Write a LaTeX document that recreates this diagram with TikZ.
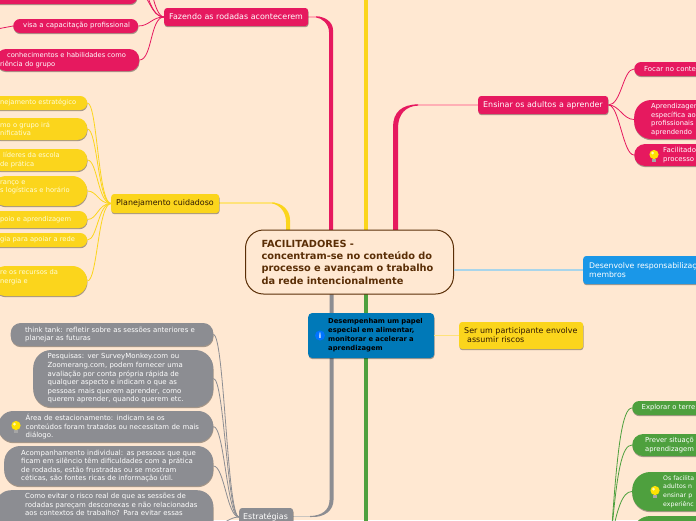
\documentclass[tikz,border=0pt]{standalone}
\usepackage{fontspec}
\setmainfont{DejaVu Sans}
\usetikzlibrary{shadows}
\definecolor{bgpeach}{HTML}{FFE8D2}
\definecolor{rosa}{HTML}{E6195F}
\definecolor{rosapale}{HTML}{FFAFB5}
\definecolor{amarelo}{HTML}{FBD51C}
\definecolor{amarelopale}{HTML}{FFE27A}
\definecolor{cinza}{HTML}{8C8D92}
\definecolor{cinzapale}{HTML}{C9C5C0}
\definecolor{verde}{HTML}{4EA03E}
\definecolor{azul}{HTML}{1A97E8}
\definecolor{azulpale}{HTML}{A9D5EA}
\definecolor{azulesc}{HTML}{0079B8}
\definecolor{marrom}{HTML}{5A2E06}
\tikzset{bulb/.pic={
\fill[gray!70] (-1.8,3) rectangle (1.8,6.5);
\fill[yellow!85!orange] (0,-1) circle (4.6);
\fill[yellow!30] (-1.5,-2.5) circle (1.5);
}}
\begin{document}
\begin{tikzpicture}[x=1pt,y=-1pt]
\tikzstyle {base}=[rectangle, anchor=west, align=left, inner ysep=0pt, drop shadow={shadow xshift=0.3pt, shadow yshift=-1.2pt, opacity=0.35, fill=black}]
\tikzstyle {topic}=[base, rounded corners=3pt, inner xsep=5pt, font=\fontsize{7.95}{9}\selectfont]
\tikzstyle {leaf}=[base, rounded corners=7pt, inner xsep=10pt, text=white, font=\fontsize{6.95}{8.6}\selectfont]
\tikzstyle {rleaf}=[leaf, fill=rosa]
\tikzstyle {yleaf}=[leaf, fill=amarelo, text=yellow!15, font=\fontsize{6.7}{8.6}\selectfont]
\tikzstyle {cleaf}=[leaf, fill=cinza]
\tikzstyle {vleaf}=[leaf, fill=verde]
\tikzstyle {rlnk}=[rosa, line width=0.8pt]
\tikzstyle {ylnk}=[amarelo, line width=0.8pt]
\tikzstyle {clnk}=[cinza, line width=0.8pt]
\tikzstyle {vlnk}=[verde, line width=0.8pt]
\useasboundingbox (0,0) rectangle (696,520);
\clip (0,0) rectangle (696,520);
\fill[bgpeach] (0,0) rectangle (696,520);
\coordinate (topY) at (366,-2);
\coordinate (baseY) at (366,232);
\coordinate (baseV) at (366,292);
\coordinate (botV) at (366,522);
\coordinate (offA) at (148,-3);
\coordinate (offB) at (153,-3);
\coordinate (offC) at (-3,29);
\coordinate (offD) at (225,522);
\coordinate (offE) at (611,540);
% trunks
\draw[amarelo, line width=4pt] (topY) -- (baseY);
\draw[verde, line width=4pt] (baseV) -- (botV);
\draw[rosapale, line width=1.4pt] (300,17) -- (320,17);
\draw[amarelopale, line width=1.2pt] (219,203) -- (275,203);
\draw[rosapale, line width=1.5pt] (478,105) -- (414,105);
\draw[cinzapale, line width=1.4pt] (293,516.5) -- (314,516.5);
\fill[rosa] (393,232) -- (393,127) .. controls (393,112) and (402,104.4) .. (418,104.4) -- (418,105.6) .. controls (406,106) and (398,114) .. (398,128) -- (398,232) -- cycle;
\fill[rosa] (333,232) -- (333,30) .. controls (333,22) and (325,16.4) .. (316,16.4) -- (316,17.4) .. controls (322,18) and (329,24) .. (329,32) -- (329,232) -- cycle;
\fill[amarelo] (290,232) -- (290,220) .. controls (290,210) and (282,202.6) .. (272,202.6) -- (272,203.4) .. controls (280,205) and (286,212) .. (286,222) -- (286,232) -- cycle;
\fill[cinza] (329.5,292) -- (329.5,500) .. controls (329.5,510) and (322,515.8) .. (310,516) -- (310,517) .. controls (325,518) and (333.5,510) .. (333.5,500) -- (333.5,292) -- cycle;
% centre and first level
\node (central) [rectangle, draw=marrom, line width=1pt, fill=bgpeach, rounded corners=18pt, anchor=west, align=left, text=marrom, inner xsep=16pt, inner ysep=0pt, minimum height=64pt, text width=176pt, font=\bfseries\fontsize{9.8}{12.3}\selectfont] at (245,262) {FACILITADORES -\\concentram-se no conteúdo do\\processo e avançam o trabalho\\da rede intencionalmente};
\node (rodadas) [topic, fill=rosa, text=white, minimum height=18pt, text width=134pt] at (164,17) {Fazendo as rodadas acontecerem};
\node (ensinar) [topic, fill=rosa, text=white, minimum height=18pt, text width=120pt] at (478,105) {Ensinar os adultos a aprender};
\node (plan) [topic, fill=amarelo, text=marrom!50!black, minimum height=19pt, text width=98pt] at (111,203.5) {Planejamento cuidadoso};
\node (estrat) [topic, fill=cinza, text=white, inner xsep=4pt, minimum height=18pt, text width=46pt] at (239,517) {Estratégias};
\node (desenv) [topic, fill=azul, text=white, inner xsep=6pt, minimum height=28pt, text width=120pt, font=\fontsize{7.75}{9}\selectfont] at (583,270) {Desenvolve responsabilizaç\\membros};
\node (ser) [topic, fill=amarelo, text=marrom!50!black, minimum height=27pt, text width=114pt] at (459,335.5) {Ser um participante envolve\\\hspace*{3pt}assumir riscos};
\node (desemp) [base, fill=azulesc, rounded corners=4pt, inner xsep=6pt, text=black, minimum height=45pt, text width=114pt, font=\bfseries\fontsize{6.8}{9}\selectfont] at (308,335.5) {\hspace*{14pt}Desempenham um papel\\\hspace*{14pt}especial em alimentar,\\\hspace*{14pt}monitorar e acelerar a\\\hspace*{14pt}aprendizagem};
\node (info) [circle, fill=blue!55!cyan, text=white, inner sep=0pt, minimum size=10pt, font=\bfseries\fontsize{7}{7}\selectfont] at (320,335.5) {i};
% top left
\node (topo) [rleaf, text width=127pt] at (-10,-8) {\rule{0pt}{24pt}};
\node (visa) [rleaf, minimum height=14pt, inner xsep=8pt, text width=109pt] at (13,26) {\hspace*{2pt}visa a capacitação profissional};
\node (conhec) [rleaf, rounded corners=10pt, minimum height=22pt, inner xsep=4pt, text width=135pt, font=\fontsize{6.7}{8.6}\selectfont] at (-4,60) {\hspace*{7pt}conhecimentos e habilidades como\\riência do grupo};
% planning leaves
\node (y1) [yleaf, minimum height=14pt, inner xsep=9pt, text width=78pt] at (-9,103) {nejamento estratégico};
\node (y2) [yleaf, rounded corners=10pt, minimum height=22pt, inner xsep=9pt, text width=78pt] at (-9,129) {mo o grupo irá\\nificativa};
\node (y3) [yleaf, rounded corners=10pt, minimum height=22pt, inner xsep=9pt, text width=78pt] at (-9,160) {\hspace*{3pt}líderes da escola\\de prática};
\node (y4) [yleaf, rounded corners=15pt, minimum height=30pt, inner xsep=9pt, text width=78pt] at (-9,191) {ranço e\\s logísticas e horário\\~};
\node (y5) [yleaf, rounded corners=8pt, minimum height=17pt, inner xsep=9pt, text width=78pt] at (-9,219.5) {poio e aprendizagem};
\node (y6) [yleaf, minimum height=14pt, inner xsep=9pt, text width=78pt] at (-9,240) {gia para apoiar a rede};
\node (y7) [yleaf, rounded corners=15pt, minimum height=30pt, inner xsep=9pt, text width=78pt] at (-9,281) {re os recursos da\\nergia e\\~};
% strategies leaves
\node (c1) [cleaf, rounded corners=10pt, minimum height=23pt, inner xsep=12pt, text width=178.5pt] at (10.5,334.5) {\hspace*{2.5pt}think tank: refletir sobre as sessões anteriores e\\\hspace*{2.5pt}planejar as futuras};
\node (c2) [cleaf, rounded corners=18pt, minimum height=57pt, inner xsep=14.5pt, text width=151pt] at (33,378.5) {Pesquisas: ver SurveyMonkey.com ou\\Zoomerang.com, podem fornecer uma\\avaliação por conta própria rápida de\\qualquer aspecto e indicam o que as\\pessoas mais querem aprender, como\\querem aprender, quando querem etc.};
\node (c3) [cleaf, rounded corners=15pt, minimum height=31pt, inner xsep=14pt, text width=187pt] at (-2,426.5) {\hspace*{13.5pt}Área de estacionamento: indicam se os\\\hspace*{13.5pt}conteúdos foram tratados ou necessitam de mais\\\hspace*{13.5pt}diálogo.};
\node (c4) [cleaf, rounded corners=16pt, minimum height=40pt, inner xsep=14pt, text width=181pt] at (4,466) {\hspace*{3pt}Acompanhamento individual: as pessoas que que\\\hspace*{3pt}ficam em silêncio têm dificuldades com a prática\\\hspace*{3pt}de rodadas, estão frustradas ou se mostram\\\hspace*{3pt}céticas, são fontes ricas de informação útil.};
\node (c5) [cleaf, rounded corners=16pt, anchor=north west, inner ysep=3pt, inner xsep=14pt, text width=190pt] at (-5,490) {\hspace*{16pt}Como evitar o risco real de que as sessões de\\\hspace*{16pt}rodadas pareçam desconexas e não relacionadas\\\hspace*{16pt}aos contextos de trabalho? Para evitar essas\\[28pt]~};
% right leaves
\node (focar) [rleaf, minimum height=14pt, text width=66pt] at (634,69) {Focar no conte};
\node (aprend) [rleaf, rounded corners=17pt, minimum height=39pt, inner xsep=17pt, text width=70pt, font=\fontsize{6.8}{8.6}\selectfont] at (634,119.5) {Aprendizager\\específica ao\\profissionais\\aprendendo};
\node (facil) [rleaf, rounded corners=11pt, minimum height=22pt, inner xsep=29pt, text width=60pt] at (634,155) {Facilitado\\processo};
\node (explorar) [vleaf, minimum height=14pt, inner xsep=9.5pt, text width=70pt, font=\fontsize{6.8}{8.6}\selectfont] at (632,408) {Explorar o terre};
\node (prever) [vleaf, rounded corners=11pt, minimum height=22pt, inner xsep=13pt, text width=60pt, font=\fontsize{6.8}{8.6}\selectfont] at (632,445) {Prever situaçõ\\aprendizagem};
\node (facilita) [vleaf, rounded corners=18pt, minimum height=39pt, inner xsep=31pt, text width=60pt, font=\fontsize{6.2}{8.6}\selectfont] at (632,491.5) {Os facilita\\adultos n\\ensinar p\\experiênc};
\node (vquatro) [vleaf, rounded corners=18pt, minimum height=44pt, text width=60pt] at (632,538) {};
\pic at (654,155.5) {bulb};
\pic at (16,426.5) {bulb};
\pic at (655,491.5) {bulb};
% connectors
\draw[azulpale, line width=1.2pt] (central.east |- desenv.west) -- (desenv.west);
\draw[amarelopale, line width=1.2pt] (desemp.east) -- (ser.west);
\draw[rlnk] (topo.east) .. controls +(12,0) and +(-14,0) .. (rodadas.west);
\draw[rlnk] (offA) .. controls +(3,10) and +(-8,0) .. (rodadas.west);
\draw[rlnk] (offB) .. controls +(2,9) and +(-5,0) .. (rodadas.west);
\draw[rlnk] (visa.east) .. controls +(11,0) and +(-12,0) .. (rodadas.west);
\draw[rlnk] (conhec.east) .. controls +(13,0) and +(-14,0) .. (rodadas.west);
\draw[rlnk] (visa.west) -- (offC);
\draw[ylnk] (y1.east) .. controls +(10,0) and +(-13,0) .. (plan.west);
\draw[ylnk] (y2.east) .. controls +(10,0) and +(-13,0) .. (plan.west);
\draw[ylnk] (y3.east) .. controls +(10,0) and +(-13,0) .. (plan.west);
\draw[ylnk] (y4.east) .. controls +(10,0) and +(-13,0) .. (plan.west);
\draw[ylnk] (y5.east) .. controls +(10,0) and +(-13,0) .. (plan.west);
\draw[ylnk] (y6.east) .. controls +(10,0) and +(-13,0) .. (plan.west);
\draw[ylnk] (y7.east) .. controls +(10,0) and +(-13,0) .. (plan.west);
\draw[clnk] (c1.east) .. controls +(11,0) and +(-12,0) .. (estrat.west);
\draw[clnk] (c2.east) .. controls +(11,0) and +(-12,0) .. (estrat.west);
\draw[clnk] (c3.east) .. controls +(11,0) and +(-12,0) .. (estrat.west);
\draw[clnk] (c4.east) .. controls +(11,0) and +(-12,0) .. (estrat.west);
\draw[clnk] (estrat.west) .. controls +(-6,0) and +(4,-2) .. (offD);
\draw[rlnk] (ensinar.east) .. controls +(13,0) and +(-11,0) .. (focar.west);
\draw[rlnk] (ensinar.east) .. controls +(11,0) and +(-11,0) .. (aprend.west);
\draw[rlnk] (ensinar.east) .. controls +(11,0) and +(-11,0) .. (facil.west);
\draw[vlnk] (offE) .. controls +(6,-90) and +(-10,0) .. (explorar.west);
\draw[vlnk] (offE) .. controls +(6,-70) and +(-10,0) .. (prever.west);
\draw[vlnk] (offE) .. controls +(6,-30) and +(-10,0) .. (facilita.west);
\draw[vlnk] (offE) .. controls +(6,-15) and +(-10,0) .. (vquatro.west);
\end{tikzpicture}
\end{document}
